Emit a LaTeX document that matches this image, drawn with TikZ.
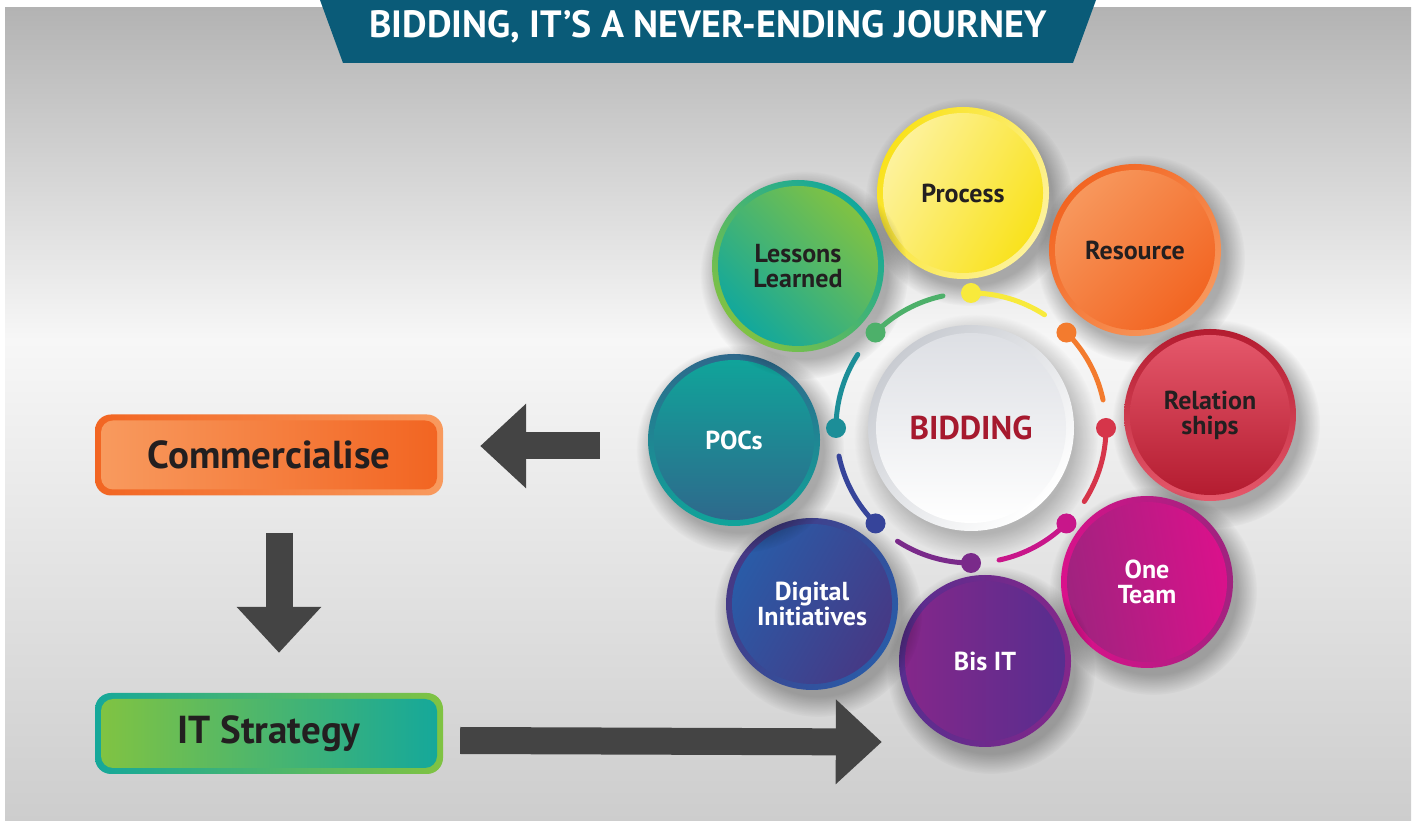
\documentclass[tikz,border=0pt]{standalone}
\usepackage{fontspec}
\setmainfont{PT Sans}
\usepackage{graphicx}
\usetikzlibrary{positioning, arrows.meta, fadings}

% colours
\definecolor{bannerblue}{HTML}{0A5B78}
\definecolor{arrowgray}{HTML}{444444}
\definecolor{txtdark}{HTML}{231F20}
\definecolor{bidred}{HTML}{A6192E}
\definecolor{bgtop}{HTML}{B3B3B3}
\definecolor{bgmid}{HTML}{F7F7F7}
\definecolor{bgbot}{HTML}{CDCDCD}
\definecolor{procA}{HTML}{FDF29C}
\definecolor{procB}{HTML}{F9E21C}
\definecolor{resA}{HTML}{F7975C}
\definecolor{resB}{HTML}{F26522}
\definecolor{relA}{HTML}{E5586B}
\definecolor{relB}{HTML}{B41C30}
\definecolor{teamA}{HTML}{A0237F}
\definecolor{teamB}{HTML}{DA118B}
\definecolor{bisA}{HTML}{84278A}
\definecolor{bisB}{HTML}{572E8F}
\definecolor{digA}{HTML}{2A5BA7}
\definecolor{digB}{HTML}{463985}
\definecolor{pocA}{HTML}{10A49A}
\definecolor{pocB}{HTML}{2E698C}
\definecolor{lesA}{HTML}{12A89C}
\definecolor{lesB}{HTML}{80C243}
\definecolor{commA}{HTML}{F89A5E}
\definecolor{commB}{HTML}{F26522}
\definecolor{itA}{HTML}{80C342}
\definecolor{itB}{HTML}{15A89A}
\definecolor{bidring}{HTML}{C9CCD2}
\definecolor{bidtop}{HTML}{DDDFE4}
\definecolor{ringY}{HTML}{F8EA3C}
\definecolor{ringO}{HTML}{F37B2E}
\definecolor{ringR}{HTML}{D6354A}
\definecolor{ringM}{HTML}{C8168A}
\definecolor{ringP}{HTML}{7A2A8A}
\definecolor{ringB}{HTML}{36449A}
\definecolor{ringT}{HTML}{1C8E98}
\definecolor{ringG}{HTML}{4DB06A}

\tikzset{
haze/.style={black, opacity=0.28, path fading=circle with fuzzy edge 20 percent}, % soft shadow under a circle
bubble/.style={circle, minimum size=172pt, inner sep=0pt}, % outer ring of a topic
bubble in/.style={circle, minimum size=160pt, inner sep=0pt, align=center,
  font=\fontsize{26}{25}\selectfont\bfseries}, % face of a topic
dot/.style={circle, minimum size=20pt, inner sep=0pt},
ring/.style={line width=5pt, line cap=round},
bigarrow/.style={draw=arrowgray, line width=27pt, -{Triangle[length=46pt, width=82pt]}},
box/.style={rounded corners=16pt, minimum width=348pt, minimum height=81pt},
box in/.style={rounded corners=12pt, minimum width=336pt, minimum height=69pt,
  text=txtdark, font=\fontsize{39}{44}\selectfont\bfseries},
}

\begin{document}
\begin{tikzpicture}[x=1pt, y=1pt]
  \useasboundingbox (0,0) rectangle (1415,821);

  % Background and title
  \fill[top color=bgtop, bottom color=bgmid] (5,481) rectangle (1411,813);
  \fill[top color=bgmid, bottom color=bgbot] (5,0) rectangle (1411,481);
  \fill[bannerblue] (320,821) -- (1096,821) -- (1073,758) -- (343,758) -- cycle;
  \node[anchor=base, text=white, font=\fontsize{38}{40}\selectfont\bfseries] (title) at (708,783)
    {BIDDING, IT’S A NEVER-ENDING JOURNEY};

  % Topics
  \foreach \nm/\px/\py/\ca/\cb/\ang/\tc/\txt in {
    proc/963/628/procA/procB/60/txtdark/Process,
    res/1135/571/resA/resB/45/txtdark/Resource,
    rel/1210/406/relA/relB/0/txtdark/{Relation\\ships},
    team/1147/239/teamA/teamB/100/white/{One\\Team},
    bis/985/160/bisA/bisB/90/white/{Bis IT},
    dig/812/217/digA/digB/60/white/{Digital\\Initiatives},
    pocs/734/381/pocA/pocB/0/white/POCs,
    les/798/555/lesA/lesB/135/txtdark/{Lessons\\Learned}}
  {
    \fill[haze] (\px+6,\py-9) circle[radius=104];
    \node[bubble, left color=\cb, right color=\ca, shading angle=\ang] (\nm) at (\px,\py) {};
    \node[bubble in, left color=\ca, right color=\cb, shading angle=\ang, text=\tc] (\nm-in) at (\nm) {\txt};
  }

  % Centre
  \fill[haze, opacity=0.22] (976,385) circle[radius=122];
  \node[circle, minimum size=206pt, left color=bidring, right color=white, shading angle=45] (bid) at (971,393) {};
  \node[circle, minimum size=190pt, top color=bidtop, bottom color=white, text=bidred,
    font=\fontsize{33}{36}\selectfont\bfseries] (bid-in) at (bid) {BIDDING};

  % Ring round the centre
  \foreach \col [count=\k from 0] in {ringY, ringO, ringR, ringM, ringP, ringB, ringT, ringG} {
    \draw[ring, \col] ([shift={({90-45*\k}:135)}]bid.center) arc[start angle={90-45*\k}, delta angle=-33, radius=135];
    \node[dot, fill=\col] (dot\k) at ([shift={({90-45*\k}:135)}]bid.center) {};
  }

  % Steps
  \node[box, left color=commB, right color=commA] (comm) at (269,366) {};
  \node[box in, left color=commA, right color=commB] (comm-in) at (comm) {Commercialise};
  \node[box, left color=itB, right color=itA] (its) at (269,87.5) {};
  \node[box in, left color=itA, right color=itB] (its-in) at (its) {IT Strategy};

  % Arrows
  \draw[bigarrow] ([xshift=-48pt, yshift=-6pt]pocs.west) -- ([xshift=37pt, yshift=9pt]comm.east);
  \draw[bigarrow] ([xshift=10pt, yshift=-37pt]comm.south) -- ([xshift=10pt, yshift=40pt]its.north);
  \draw[bigarrow] ([xshift=17pt, yshift=-7pt]its.east) -- ([xshift=-17pt, yshift=-81pt]bis.west);
\end{tikzpicture}
\end{document}
